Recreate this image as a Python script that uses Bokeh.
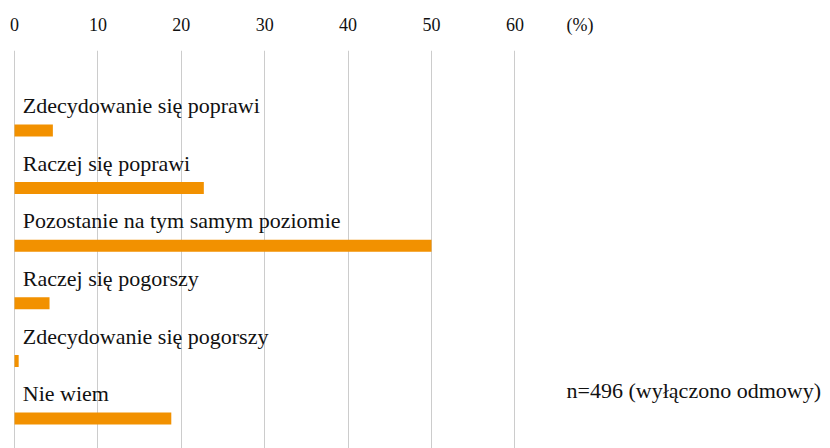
from bokeh.plotting import figure
from bokeh.models import Range1d, FixedTicker, ColumnDataSource
from bokeh.core.properties import value
from bokeh.embed import file_html
from bokeh.resources import INLINE

categories = ["Zdecydowanie się poprawi", "Raczej się poprawi", "Pozostanie na tym samym poziomie",
              "Raczej się pogorszy", "Zdecydowanie się pogorszy", "Nie wiem"]
values = [4.6, 22.7, 50.0, 4.2, 0.5, 18.8]
tick_values = [0, 10, 20, 30, 40, 50, 60]
unit_label = "(%)"
note = "n=496 (wyłączono odmowy)"

FONT = "Liberation Serif"

idx = list(range(len(categories)))
src = ColumnDataSource(dict(cat=categories, val=values, y=idx,
                            ty=[i - 0.43 for i in idx], tx=[1.0] * len(idx)))

p = figure(width=822, height=448, output_backend="svg", toolbar_location=None,
           x_range=Range1d(-1.679, 96.88), y_range=Range1d(5.521, -1.389),
           x_axis_location="above", min_border_left=0, min_border_right=0,
           min_border_bottom=0, min_border_top=50)
p.outline_line_color = None
p.yaxis.visible = False
p.ygrid.visible = False

unit_pos = 67.8
p.xaxis.ticker = FixedTicker(ticks=tick_values + [unit_pos])
p.xaxis.major_label_overrides = {unit_pos: unit_label}
p.xaxis.axis_line_color = None
p.xaxis.major_tick_line_color = None
p.xaxis.minor_tick_line_color = None
p.xaxis.major_label_text_font = FONT
p.xaxis.major_label_text_font_size = "18px"
p.xaxis.major_label_text_color = "#111111"
p.xaxis.major_label_standoff = 10

p.xgrid.ticker = FixedTicker(ticks=tick_values)
p.xgrid.grid_line_color = "#cccccc"
p.xgrid.grid_line_width = 1

p.hbar(y="y", left=0, right="val", height=0.208, source=src,
       fill_color="#f29100", line_color=None)

p.text(x="tx", y="ty", text="cat", source=src, text_font=value(FONT),
       text_font_size="22px", text_baseline="alphabetic", text_align="left",
       text_color="#111111")

p.text(x=[66.2], y=[4.52], text=[note], text_font=value(FONT),
       text_font_size="22px", text_baseline="alphabetic", text_align="left",
       text_color="#111111")

open("out.html", "w").write(file_html(p, INLINE))
